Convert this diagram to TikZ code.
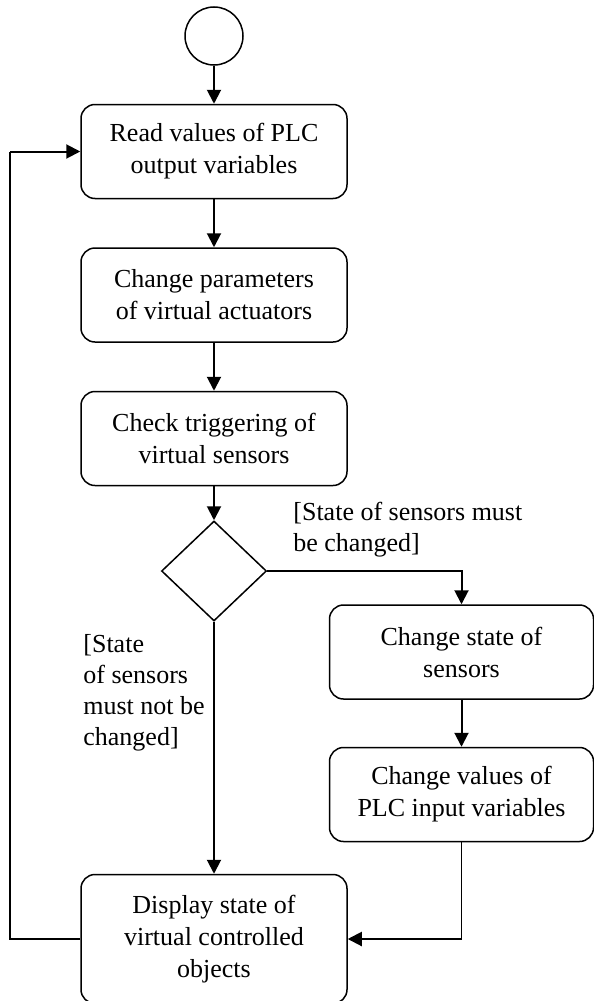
\documentclass[tikz,border=0pt]{standalone}
\usepackage{fontspec}
\setmainfont{Liberation Serif}
\usepackage{tikz}
\usetikzlibrary{positioning,shapes.geometric,arrows.meta}

\begin{document}
\begin{tikzpicture}[node distance=24pt, >={Triangle[length=7pt,width=7pt]},
    stepbox/.style={rectangle,draw,rounded corners=7pt,line width=0.75pt,minimum width=133pt,minimum height=47pt,align=center,font=\fontsize{13}{16}\selectfont},
    choice/.style={diamond,draw,line width=0.75pt,minimum width=52.5pt,minimum height=50pt,inner sep=0pt,aspect=1.05},
    guard/.style={inner sep=0pt,align=left,font=\fontsize{13}{15.5}\selectfont},
    flow/.style={->,line width=1pt},
    back/.style={line width=0.65pt}]
    \useasboundingbox (0,0) rectangle (297pt,-500.5pt);
    \node[circle,draw,line width=0.75pt,minimum size=29pt,inner sep=0pt] (start) at (107pt,-18pt) {};
    \node[stepbox,below=19pt of start] (read) {Read values of PLC\\output variables};
    \node[stepbox,below=of read] (actuators) {Change parameters\\of virtual actuators};
    \node[stepbox,below=of actuators] (check) {Check triggering of\\virtual sensors};
    \node[choice,below=17pt of check] (decide) {};
    \node[stepbox,minimum width=132pt] (state) at (230.75pt,-326pt) {Change state of\\sensors};
    \node[stepbox,minimum width=132pt,below=23.5pt of state] (inputs) {Change values of\\PLC input variables};
    \node[stepbox,minimum height=64.5pt,below=126pt of decide] (display) {Display state of\\virtual controlled\\objects};
    \node[guard,anchor=west] (yes) at (146.5pt,-265pt) {[State of sensors must\\be changed]};
    \node[guard,anchor=west] (no) at (41.5pt,-346.5pt) {[State\\of sensors\\must not be\\changed]};
    \coordinate (loop) at (5pt,0);

    \draw[flow] (start) -- (read);
    \draw[flow] (read) -- (actuators);
    \draw[flow] (actuators) -- (check);
    \draw[flow] (check) -- (decide);
    \draw[flow] (decide.east) -| (state.north);
    \draw[flow] (state) -- (inputs);
    \draw[flow] (decide.south) -- (display.north);
    \draw[back] (inputs.south) -- (inputs.south |- display.east);
    \draw[flow] (inputs.south |- display.east) -- (display.east);
    \draw[back] (display.west) -- (display.west -| loop) -- (loop |- read.west);
    \draw[flow] (loop |- read.west) -- (read.west);
\end{tikzpicture}
\end{document}
